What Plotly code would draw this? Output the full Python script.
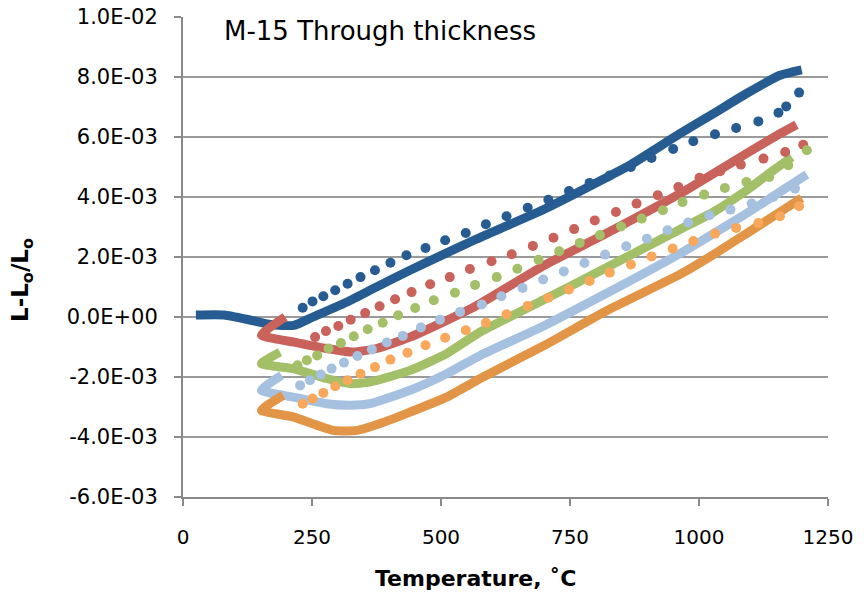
import plotly.graph_objects as go
import numpy as np

# ---------------- data (temperature in °C, strain in units of 1E-3) ----------------
# Heating runs (solid lines)
blue_heat_T = [25, 80, 130, 170, 215, 252, 318, 375, 440, 504, 569, 700, 820, 866, 963, 1028, 1092, 1157, 1199]
blue_heat_v = [0.07, 0.07, -0.1, -0.25, -0.28, 0.0, 0.5, 1.0, 1.56, 2.08, 2.6, 3.59, 4.64, 5.06, 6.11, 6.78, 7.45, 8.06, 8.24]

red_heat_T = [198, 152, 213, 278, 330, 375, 440, 504, 569, 700, 820, 963, 1028, 1092, 1157, 1189]
red_heat_v = [0.0, -0.6, -0.83, -1.05, -1.17, -1.05, -0.67, -0.17, 0.38, 1.72, 2.78, 4.11, 4.78, 5.45, 6.11, 6.41]

green_heat_T = [188, 152, 213, 278, 324, 362, 440, 511, 576, 700, 820, 963, 1028, 1092, 1144, 1180]
green_heat_v = [-1.17, -1.55, -1.72, -2.05, -2.22, -2.17, -1.78, -1.22, -0.5, 0.58, 1.64, 2.92, 3.5, 4.22, 4.89, 5.33]

ltblue_heat_T = [191, 152, 213, 278, 324, 362, 440, 511, 576, 700, 820, 963, 1028, 1092, 1157, 1209]
ltblue_heat_v = [-1.94, -2.44, -2.67, -2.89, -2.94, -2.89, -2.44, -1.89, -1.28, -0.29, 0.78, 2.11, 2.78, 3.45, 4.17, 4.75]

orange_heat_T = [194, 152, 213, 291, 337, 382, 440, 511, 576, 700, 820, 963, 1028, 1092, 1157, 1199]
orange_heat_v = [-2.61, -3.11, -3.33, -3.78, -3.78, -3.55, -3.17, -2.67, -2.05, -0.95, 0.2, 1.42, 2.08, 2.78, 3.5, 3.97]

# Cooling runs (dotted lines) - one value per visible dot
blue_cool_T = [232, 251, 272, 295, 319, 344, 372, 402, 433, 470, 508, 548, 587, 627, 668, 708, 748, 788, 827,
               868, 908, 950, 989, 1031, 1072, 1115, 1154, 1169, 1194]
blue_cool_v = [0.31, 0.52, 0.69, 0.89, 1.11, 1.33, 1.56, 1.81, 2.06, 2.3, 2.56, 2.8, 3.09, 3.36, 3.64, 3.91, 4.2,
               4.47, 4.72, 5.0, 5.3, 5.6, 5.86, 6.09, 6.3, 6.52, 6.81, 7.02, 7.48]

red_cool_T = [256, 277, 301, 325, 353, 381, 411, 443, 479, 517, 556, 598, 637, 678, 718, 758, 798, 839, 879,
              920, 960, 1001, 1041, 1081, 1125, 1167, 1202]
red_cool_v = [-0.67, -0.47, -0.3, -0.09, 0.13, 0.36, 0.59, 0.83, 1.09, 1.33, 1.6, 1.86, 2.09, 2.37, 2.64, 2.93,
              3.22, 3.5, 3.78, 4.06, 4.33, 4.64, 4.86, 5.08, 5.28, 5.5, 5.74]

green_cool_T = [222, 240, 260, 282, 306, 331, 358, 387, 417, 450, 486, 527, 566, 608, 648, 689, 729, 769, 808,
                849, 889, 930, 968, 1010, 1050, 1092, 1136, 1173, 1209]
green_cool_v = [-1.61, -1.44, -1.28, -1.05, -0.87, -0.64, -0.41, -0.19, 0.06, 0.3, 0.56, 0.81, 1.07, 1.33, 1.61,
                1.91, 2.19, 2.47, 2.73, 3.02, 3.28, 3.56, 3.83, 4.08, 4.3, 4.5, 4.67, 5.06, 5.56]

ltblue_cool_T = [227, 246, 267, 288, 312, 338, 366, 395, 426, 461, 498, 537, 579, 617, 658, 698, 738, 778, 818,
                 859, 899, 939, 979, 1020, 1061, 1102, 1144, 1186]
ltblue_cool_v = [-2.28, -2.11, -1.92, -1.72, -1.52, -1.3, -1.08, -0.85, -0.63, -0.35, -0.09, 0.17, 0.42, 0.69,
                 0.97, 1.25, 1.52, 1.8, 2.08, 2.36, 2.61, 2.89, 3.15, 3.39, 3.58, 3.78, 4.0, 4.28]

orange_cool_T = [232, 251, 272, 295, 319, 344, 372, 402, 435, 470, 508, 548, 587, 627, 668, 708, 748, 788, 827,
                 868, 908, 949, 989, 1031, 1072, 1115, 1157, 1194]
orange_cool_v = [-2.89, -2.72, -2.53, -2.31, -2.11, -1.89, -1.67, -1.42, -1.19, -0.94, -0.69, -0.44, -0.19, 0.09,
                 0.37, 0.64, 0.92, 1.2, 1.48, 1.75, 2.02, 2.28, 2.53, 2.78, 2.97, 3.13, 3.36, 3.69]

# Axis ticks
x_ticks = [0, 250, 500, 750, 1000, 1250]
y_tick_vals = [-6e-3, -4e-3, -2e-3, 0.0, 2e-3, 4e-3, 6e-3, 8e-3, 1e-2]
y_tick_text = ["-6.0E-03", "-4.0E-03", "-2.0E-03", "0.0E+00", "2.0E-03", "4.0E-03", "6.0E-03", "8.0E-03", "1.0E-02"]

chart_title = "M-15 Through thickness"
x_title = "Temperature, ˚C"
y_title = "L-L<sub>o</sub>/L<sub>o</sub>"

SCALE = 1e-3  # data above are given in units of 1E-3

C_BLUE = "#275C92"
C_RED = "#C9625B"
C_GREEN = "#A3C068"
C_LTBLUE = "#A6C1E0"
C_ORANGE = "#E39547"
C_ORANGE_DOT = "#F9A85B"

FONT = "DejaVu Sans, Arial, sans-serif"

fig = go.Figure()

heat = [
    (blue_heat_T, blue_heat_v, C_BLUE),
    (red_heat_T, red_heat_v, C_RED),
    (green_heat_T, green_heat_v, C_GREEN),
    (ltblue_heat_T, ltblue_heat_v, C_LTBLUE),
    (orange_heat_T, orange_heat_v, C_ORANGE),
]
cool = [
    (blue_cool_T, blue_cool_v, C_BLUE),
    (red_cool_T, red_cool_v, C_RED),
    (green_cool_T, green_cool_v, C_GREEN),
    (ltblue_cool_T, ltblue_cool_v, C_LTBLUE),
    (orange_cool_T, orange_cool_v, C_ORANGE_DOT),
]

for T, v, c in heat:
    fig.add_trace(go.Scatter(x=T, y=np.array(v) * SCALE, mode="lines",
                             line=dict(color=c, width=9, shape="spline", smoothing=0.5),
                             showlegend=False, hoverinfo="skip"))
for T, v, c in cool:
    fig.add_trace(go.Scatter(x=T, y=np.array(v) * SCALE, mode="markers",
                             marker=dict(color=c, size=10, line=dict(width=0)),
                             showlegend=False, hoverinfo="skip"))

AX_COLOR = "#898989"

fig.update_layout(
    width=864, height=598, autosize=False,
    margin=dict(l=183, r=36, t=17, b=101, pad=0),
    paper_bgcolor="white", plot_bgcolor="white",
    font=dict(family=FONT, color="black"),
    xaxis=dict(range=[0, 1250], tickvals=x_ticks, showgrid=False, zeroline=False, automargin=False,
               showline=True, linecolor=AX_COLOR, linewidth=2,
               ticks="outside", ticklen=7, tickwidth=2, tickcolor=AX_COLOR,
               tickfont=dict(size=20, family=FONT), ticklabelstandoff=14),
    yaxis=dict(range=[-6e-3, 1e-2], tickvals=y_tick_vals, ticktext=y_tick_text, automargin=False,
               showgrid=True, gridcolor="#9a9a9a", gridwidth=1.5, zeroline=False,
               showline=True, linecolor=AX_COLOR, linewidth=2,
               ticks="outside", ticklen=7, tickwidth=2, tickcolor=AX_COLOR,
               tickfont=dict(size=21, family=FONT), ticklabelstandoff=12),
    annotations=[
        dict(text=chart_title, xref="paper", yref="paper", x=(222 - 183) / 645, y=(497 - 31) / 480,
             xanchor="left", yanchor="middle", showarrow=False, font=dict(size=26, family=FONT)),
        dict(text="<b>" + x_title + "</b>", xref="paper", yref="paper", x=(475 - 183) / 645,
             y=(497 - 578) / 480, xanchor="center", yanchor="middle", showarrow=False,
             font=dict(size=22, family=FONT)),
        dict(text="<b>" + y_title + "</b>", xref="paper", yref="paper", x=(22 - 183) / 645,
             y=(497 - 280) / 480, xanchor="center", yanchor="middle", showarrow=False, textangle=-90,
             font=dict(size=23, family=FONT)),
    ],
)

fig.write_html("out.html")
